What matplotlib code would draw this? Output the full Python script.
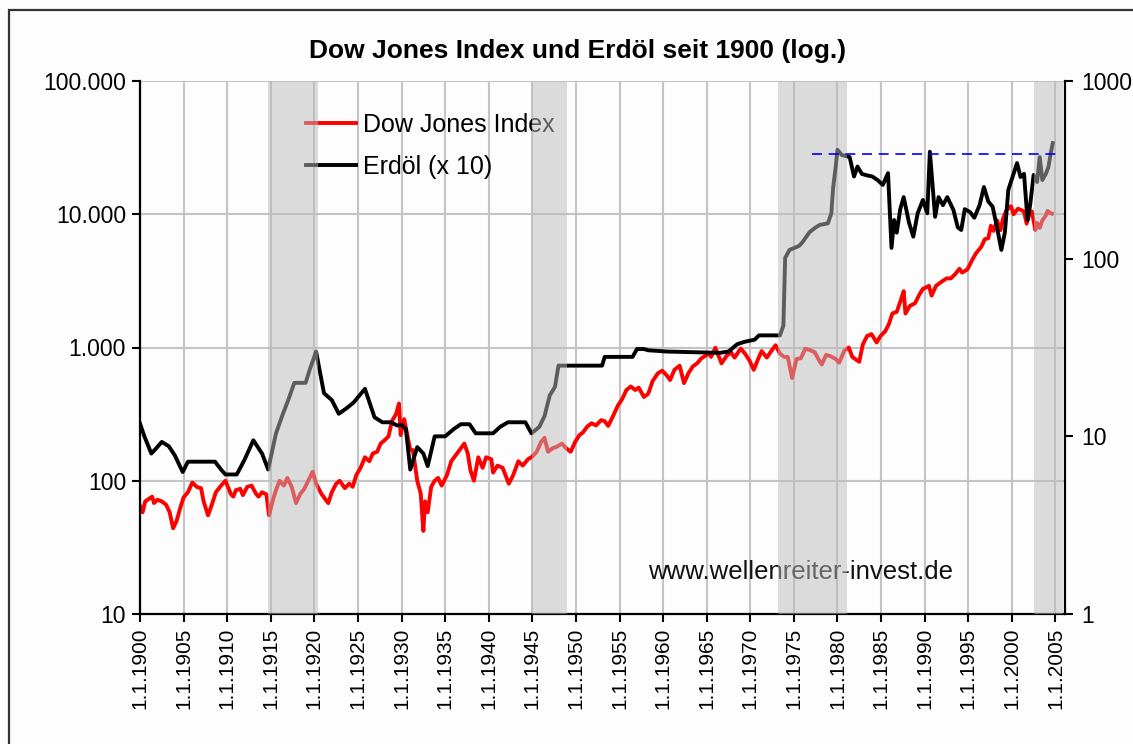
import matplotlib
matplotlib.use("Agg")
import matplotlib.pyplot as plt
from matplotlib.ticker import FixedLocator, NullLocator, FixedFormatter
from matplotlib.patches import Rectangle

plt.rcParams['font.family'] = ['Liberation Sans', 'DejaVu Sans']

# Dow Jones Index (Punkte)
dow_jahr = [1900.0, 1900.3, 1900.6, 1901.0, 1901.4, 1901.6, 1902.0, 1902.5, 1903.0, 1903.4,
            1903.8, 1904.2, 1904.6, 1905.0, 1905.5, 1906.0, 1906.5, 1907.0, 1907.3, 1907.8,
            1908.2, 1908.7, 1909.3, 1909.8, 1910.4, 1910.7, 1911.0, 1911.5, 1911.8, 1912.3,
            1912.8, 1913.3, 1913.6, 1914.0, 1914.5, 1914.8, 1915.2, 1915.6, 1916.0, 1916.5,
            1916.9, 1917.4, 1917.9, 1918.4, 1918.8, 1919.3, 1919.8, 1920.2, 1920.8, 1921.3,
            1921.6, 1922.0, 1922.5, 1922.9, 1923.5, 1924.0, 1924.4, 1924.8, 1925.3, 1925.8,
            1926.3, 1926.7, 1927.2, 1927.6, 1928.0, 1928.5, 1928.9, 1929.4, 1929.7, 1929.9,
            1930.3, 1930.6, 1931.0, 1931.3, 1931.8, 1932.2, 1932.5, 1932.7, 1933.0, 1933.4,
            1933.8, 1934.2, 1934.6, 1935.2, 1935.7, 1936.2, 1936.8, 1937.2, 1937.6, 1937.9,
            1938.3, 1938.8, 1939.3, 1939.7, 1940.3, 1940.5, 1941.0, 1941.6, 1942.3, 1942.8,
            1943.4, 1943.9, 1944.5, 1945.0, 1945.5, 1946.0, 1946.4, 1946.8, 1947.3, 1947.8,
            1948.4, 1948.9, 1949.4, 1949.9, 1950.4, 1950.8, 1951.3, 1951.8, 1952.3, 1952.9,
            1953.3, 1953.7, 1954.2, 1954.8, 1955.3, 1955.8, 1956.3, 1956.8, 1957.2, 1957.8,
            1958.3, 1958.8, 1959.4, 1959.9, 1960.4, 1960.8, 1961.3, 1961.9, 1962.4, 1962.9,
            1963.4, 1963.9, 1964.4, 1964.9, 1965.4, 1965.5, 1966.0, 1966.7, 1967.3, 1967.8,
            1968.2, 1968.9, 1969.4, 1969.9, 1970.4, 1970.9, 1971.3, 1971.9, 1972.4, 1972.9,
            1973.4, 1973.9, 1974.3, 1974.8, 1975.3, 1975.8, 1976.3, 1976.8, 1977.4, 1977.9,
            1978.2, 1978.7, 1979.2, 1979.8, 1980.2, 1980.8, 1981.3, 1981.7, 1982.5, 1982.9,
            1983.4, 1983.9, 1984.5, 1984.9, 1985.5, 1985.9, 1986.3, 1986.8, 1987.3, 1987.6,
            1987.8, 1988.3, 1988.9, 1989.4, 1989.8, 1990.5, 1990.8, 1991.3, 1991.9, 1992.5,
            1993.0, 1993.5, 1994.0, 1994.3, 1994.9, 1995.5, 1995.9, 1996.5, 1996.9, 1997.3,
            1997.6, 1997.9, 1998.3, 1998.7, 1999.0, 1999.4, 1999.9, 2000.2, 2000.7, 2001.0,
            2001.4, 2001.7, 2002.0, 2002.3, 2002.7, 2002.9, 2003.2, 2003.5, 2003.9, 2004.1,
            2004.4, 2004.6]
dow_wert = [65, 58, 70, 73, 76, 68, 72, 70, 66, 58,
            44, 50, 62, 75, 82, 97, 90, 88, 70, 55,
            65, 82, 92, 100, 80, 76, 85, 87, 78, 90,
            92, 80, 76, 82, 79, 55, 70, 85, 100, 92,
            105, 90, 68, 80, 86, 100, 117, 95, 80, 72,
            68, 82, 95, 100, 88, 95, 90, 110, 125, 150,
            140, 160, 165, 190, 200, 215, 280, 320, 380, 220,
            290, 230, 170, 170, 100, 80, 42, 70, 58, 90,
            100, 105, 92, 110, 140, 155, 175, 190, 160, 120,
            100, 150, 125, 150, 145, 115, 130, 125, 95, 110,
            140, 130, 145, 152, 165, 195, 210, 165, 175, 180,
            190, 175, 165, 195, 220, 230, 255, 270, 260, 285,
            280, 258, 300, 365, 410, 480, 510, 480, 500, 425,
            450, 560, 640, 670, 620, 570, 680, 730, 540, 640,
            720, 760, 830, 870, 900, 850, 995, 760, 870, 920,
            840, 980, 900, 800, 680, 820, 940, 840, 940, 1040,
            900, 850, 850, 590, 820, 830, 980, 960, 920, 800,
            745, 880, 860, 820, 770, 950, 1000, 850, 780, 1050,
            1220, 1260, 1090, 1210, 1330, 1500, 1800, 1850, 2300, 2650,
            1800, 2050, 2150, 2500, 2750, 2900, 2450, 2900, 3100, 3300,
            3300, 3550, 3900, 3650, 3850, 4600, 5100, 5700, 6500, 6600,
            8200, 7500, 9000, 7600, 9300, 10800, 11500, 10000, 11000, 10800,
            10500, 8500, 10000, 10500, 7600, 8600, 7900, 9000, 9800, 10600,
            10200, 10100]

# Erdoel (USD je Barrel x 10)
oel_jahr = [1900.0, 1900.5, 1901.3, 1901.8, 1902.5, 1903.3, 1904.0, 1904.9, 1905.5, 1908.6,
            1909.3, 1909.8, 1911.1, 1912.0, 1913.0, 1914.0, 1914.7, 1915.6, 1916.3, 1917.0,
            1917.7, 1919.0, 1919.5, 1920.2, 1920.8, 1921.1, 1922.0, 1922.8, 1923.7, 1924.5,
            1925.8, 1926.9, 1927.8, 1928.8, 1929.5, 1930.0, 1930.5, 1931.0, 1931.8, 1932.5,
            1933.0, 1933.8, 1935.0, 1936.0, 1936.8, 1937.8, 1938.5, 1940.5, 1941.3, 1942.2,
            1944.2, 1944.9, 1945.8, 1946.4, 1947.0, 1947.6, 1948.0, 1949.5, 1953.0, 1953.3,
            1956.5, 1957.0, 1957.8, 1958.3, 1960.5, 1966.5, 1967.5, 1968.5, 1969.3, 1970.5,
            1971.0, 1973.4, 1973.8, 1974.0, 1974.5, 1975.6, 1976.0, 1976.8, 1977.5, 1978.0,
            1978.9, 1979.3, 1979.5, 1979.8, 1980.0, 1980.5, 1981.4, 1981.9, 1982.3, 1982.8,
            1983.3, 1984.0, 1984.6, 1985.2, 1985.8, 1986.2, 1986.5, 1986.8, 1987.2, 1987.6,
            1988.2, 1988.7, 1989.2, 1989.8, 1990.3, 1990.6, 1990.9, 1991.2, 1991.6, 1992.1,
            1992.6, 1993.3, 1993.8, 1994.2, 1994.6, 1995.2, 1995.7, 1996.3, 1996.8, 1997.3,
            1997.8, 1998.3, 1998.8, 1999.2, 1999.6, 2000.2, 2000.6, 2001.0, 2001.4, 2001.8,
            2002.1, 2002.5, 2002.9, 2003.2, 2003.5, 2003.9, 2004.2, 2004.5, 2004.7]
oel_wert = [11.8, 10, 8, 8.5, 9.3, 8.8, 7.8, 6.3, 7.2, 7.2,
            6.5, 6.1, 6.1, 7.4, 9.5, 8, 6.5, 10.4, 13, 16,
            20, 20, 24, 30, 21, 17.5, 16, 13.4, 14.4, 15.5,
            18.5, 12.8, 12, 12, 11.5, 11.6, 11, 6.5, 8.7, 8,
            6.8, 10, 10, 11, 11.7, 11.7, 10.4, 10.4, 11.3, 12,
            12, 10.4, 11.3, 13, 17, 19, 25, 25, 25, 28,
            28, 31, 31, 30.5, 30, 29.5, 30, 33, 34, 35,
            37, 37, 42, 101, 112, 118, 124, 141, 150, 155,
            158, 180, 250, 330, 410, 383, 373, 290, 330, 300,
            295, 290, 277, 260, 303, 115, 165, 140, 190, 222,
            160, 133, 180, 214, 180, 400, 260, 172, 222, 200,
            222, 188, 150, 145, 190, 183, 170, 200, 253, 210,
            196, 150, 112, 140, 244, 300, 345, 288, 300, 165,
            200, 296, 270, 373, 277, 300, 328, 400, 447]

# graue Phasen
phasen = [(1914.7, 1920.4), (1945.0, 1949.0), (1973.2, 1981.1), (2002.6, 2005.9)]
hoch_1980 = 390
hoch_von, hoch_bis = 1977.1, 2005.3

jahre_ticks = list(range(1900, 2006, 5))
jahre_labels = ["1.1.%d" % j for j in jahre_ticks]
links_ticks = [10, 100, 1000, 10000, 100000]
links_labels = ["10", "100", "1.000", "10.000", "100.000"]
rechts_ticks = [1, 10, 100, 1000]
rechts_labels = ["1", "10", "100", "1000"]

fig = plt.figure(figsize=(11.33, 7.44), dpi=100)
fig.patch.set_facecolor("#fdfdfd")
fig.patches.append(Rectangle((9 / 1133, -0.1), 1.2, 1.1 - 10 / 744, transform=fig.transFigure,
                             fill=False, edgecolor="#333333", linewidth=1.6))

ax = fig.add_axes([140 / 1133, 1 - 614 / 744, (1065 - 140) / 1133, (614 - 81) / 744])
ax.set_facecolor("#fdfdfd")
ax.set_yscale("log")
ax.set_ylim(10, 100000)
ax.set_xlim(1900, 2006.1)

ax2 = ax.twinx()
ax2.set_yscale("log")
ax2.set_ylim(1, 1000)

# Gitter
ax.set_axisbelow(True)
ax.grid(True, color="#c4c4c4", linewidth=1.5)

l_dow, = ax.plot(dow_jahr, dow_wert, color="#ff0000", linewidth=2.8, zorder=2)
l_oel, = ax2.plot(oel_jahr, oel_wert, color="black", linewidth=2.8, zorder=2)

for a, b in phasen:
    ax2.axvspan(a, b, color="#bbbbbb", alpha=0.5, linewidth=0, zorder=5)

ax2.plot([hoch_von, hoch_bis], [hoch_1980, hoch_1980], color="#0000ff", linewidth=1.2,
         dashes=(6, 4), zorder=6)

leg = ax2.legend([l_dow, l_oel], ["Dow Jones Index", "Erdöl (x 10)"], loc="upper left",
                 bbox_to_anchor=(0.155, 0.982), frameon=False, fontsize=18,
                 handlelength=2.0, handletextpad=0.3, labelspacing=0.72)
leg.set_zorder(3)

ax2.text(0.549, 0.065, "www.wellenreiter-invest.de", transform=ax.transAxes, fontsize=18.5,
         color="#111111", zorder=3)

fig.text(0.51, 0.932, "Dow Jones Index und Erdöl seit 1900 (log.)", ha="center", va="center",
         fontsize=19, fontweight="bold")

# Achsen
ax.xaxis.set_major_locator(FixedLocator(jahre_ticks))
ax.xaxis.set_major_formatter(FixedFormatter(jahre_labels))
ax.yaxis.set_major_locator(FixedLocator(links_ticks))
ax.yaxis.set_major_formatter(FixedFormatter(links_labels))
ax.yaxis.set_minor_locator(NullLocator())
ax2.yaxis.set_major_locator(FixedLocator(rechts_ticks))
ax2.yaxis.set_major_formatter(FixedFormatter(rechts_labels))
ax2.yaxis.set_minor_locator(NullLocator())

ax.tick_params(axis="x", labelrotation=90, direction="out", length=6, width=1.5,
               labelsize=15, pad=4)
ax.tick_params(axis="y", direction="out", length=6, width=1.5, labelsize=16.5, pad=4)
ax2.tick_params(axis="y", direction="out", length=6, width=1.5, labelsize=16.5, pad=6)

for s in ["top", "right"]:
    ax.spines[s].set_visible(False)
for s in ["top", "left", "bottom"]:
    ax2.spines[s].set_visible(False)
for s in ["left", "bottom"]:
    ax.spines[s].set_linewidth(1.6)
ax2.spines["right"].set_linewidth(1.6)

fig.savefig("out.png", dpi=100, facecolor=fig.get_facecolor())
